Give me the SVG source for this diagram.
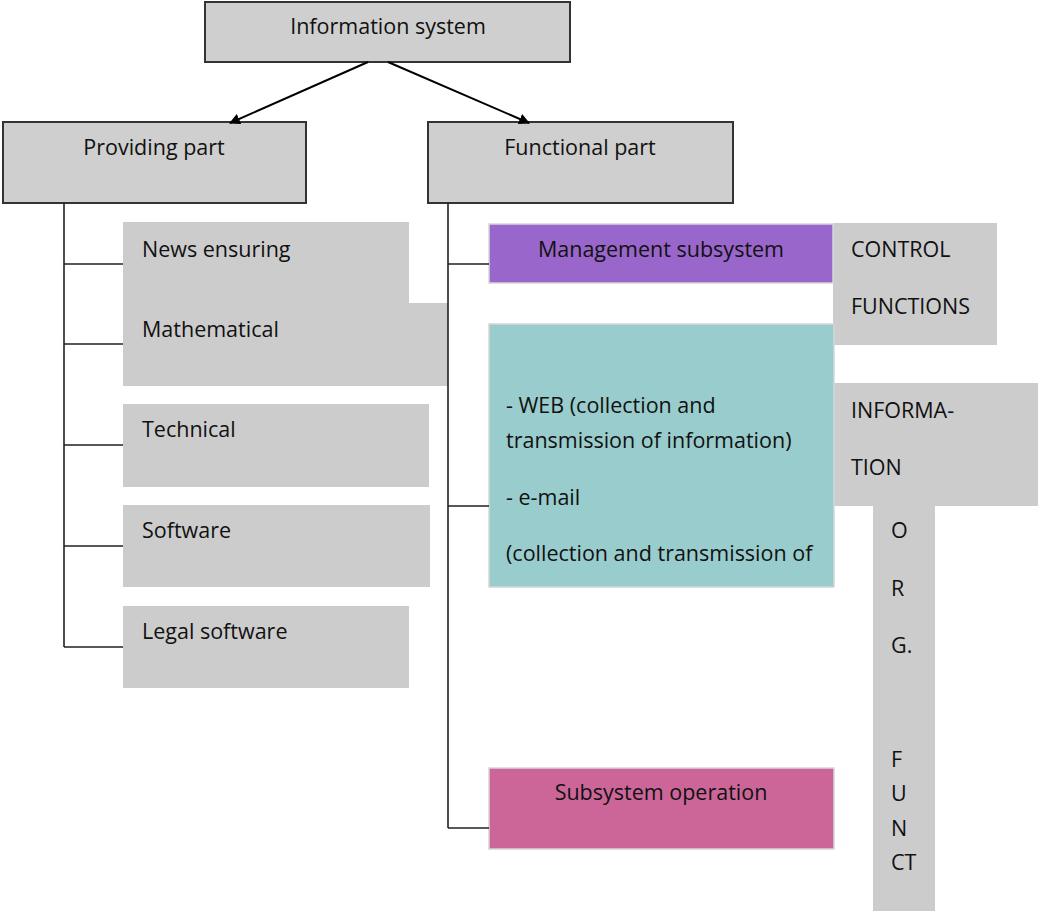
<svg xmlns="http://www.w3.org/2000/svg" width="1038" height="911" viewBox="0 0 1038 911">
<defs>
<marker id="arr" viewBox="0 0 10 10" refX="9" refY="5" markerWidth="11" markerHeight="11" markerUnits="userSpaceOnUse" orient="auto">
<path d="M0,0 L10,5 L0,10 z" fill="#000"/>
</marker>
<style>
text{font-family:"Open Sans",Lato,"Liberation Sans",sans-serif;font-size:21.5px;fill:#111}
.c{text-anchor:middle}
.main{fill:#CFCFCF;stroke:#333;stroke-width:2}
.g{fill:#CCCCCC}
.pur{fill:#9966CC;stroke:#D6D6D6;stroke-width:1.5}
.teal{fill:#99CCCC;stroke:#D6D6D6;stroke-width:1.5}
.pink{fill:#CC6699;stroke:#D6D6D6;stroke-width:1.5}
.ln{fill:none;stroke:#222;stroke-width:1.6}
.ar{fill:none;stroke:#000;stroke-width:2;marker-end:url(#arr)}
</style>
</defs>
<rect width="1038" height="911" fill="#fff"/>

<g id="info-system">
<rect class="main" x="205" y="2" width="365" height="60"/>
<text class="c" x="388" y="34">Information system</text>
</g>
<g id="providing-part">
<rect class="main" x="3" y="122" width="303" height="81"/>
<text class="c" x="154" y="155">Providing part</text>
</g>
<g id="functional-part">
<rect class="main" x="428" y="122" width="305" height="81"/>
<text class="c" x="580" y="155">Functional part</text>
</g>

<g id="news-ensuring">
<rect class="g" x="123" y="222" width="286" height="82"/>
<text x="142" y="257">News ensuring</text>
</g>
<g id="mathematical">
<rect class="g" x="123" y="303" width="325" height="83"/>
<text x="142" y="337">Mathematical</text>
</g>
<g id="technical">
<rect class="g" x="123" y="404" width="306" height="83"/>
<text x="142" y="437">Technical</text>
</g>
<g id="software">
<rect class="g" x="123" y="505" width="307" height="82"/>
<text x="142" y="538">Software</text>
</g>
<g id="legal-software">
<rect class="g" x="123" y="606" width="286" height="82"/>
<text x="142" y="639">Legal software</text>
</g>

<g id="control-functions">
<rect class="g" x="833" y="223" width="164" height="122"/>
<text x="851" y="257">CONTROL</text>
<text x="851" y="314">FUNCTIONS</text>
</g>
<g id="management-subsystem">
<rect class="pur" x="489" y="224" width="344" height="59"/>
<text class="c" x="661" y="257">Management subsystem</text>
</g>
<g id="information">
<rect class="g" x="834" y="383" width="204" height="123"/>
<text x="851" y="418">INFORMA-</text>
<text x="851" y="475">TION</text>
</g>
<g id="org-funct">
<rect class="g" x="873" y="505" width="62" height="406"/>
<text x="891" y="538">O</text>
<text x="891" y="596">R</text>
<text x="891" y="653">G.</text>
<text x="891" y="767">F</text>
<text x="891" y="801">U</text>
<text x="891" y="836">N</text>
<text x="891" y="870">CT</text>
</g>
<g id="web-email">
<rect class="teal" x="489" y="324" width="345" height="263"/>
<text x="506" y="413">- WEB (collection and</text>
<text x="506" y="448">transmission of information)</text>
<text x="506" y="505">- e-mail</text>
<text x="506" y="561">(collection and transmission of</text>
</g>
<g id="subsystem-operation">
<rect class="pink" x="489" y="768" width="345" height="81"/>
<text class="c" x="661" y="800">Subsystem operation</text>
</g>

<g id="connectors">
<line class="ar" x1="368" y1="62" x2="230" y2="123"/>
<line class="ar" x1="388" y1="62" x2="529" y2="123"/>
<path class="ln" d="M64,203 V647 M64,264 H123 M64,344 H123 M64,445 H123 M64,546 H123 M64,647 H123"/>
<path class="ln" d="M448,203 V828 M448,264 H489 M448,506 H489 M448,828 H489"/>
</g>
</svg>
